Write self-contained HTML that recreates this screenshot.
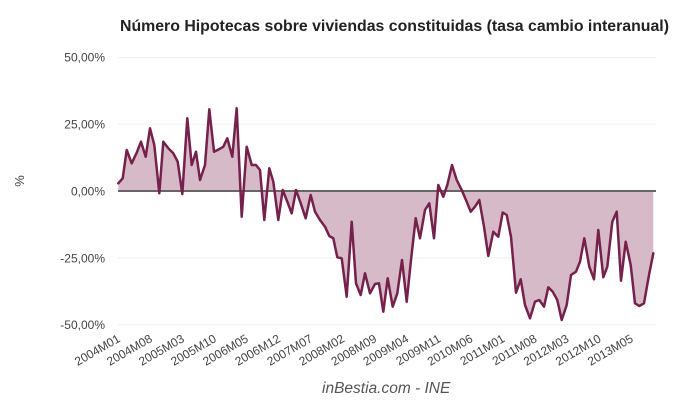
<!DOCTYPE html>
<html>
<head>
<meta charset="utf-8">
<style>
  html, body { margin:0; padding:0; background:#fff; }
  svg { display:block; }
  text { font-family: "Liberation Sans", Arial, sans-serif; }
</style>
</head>
<body>
<svg width="680" height="416" viewBox="0 0 680 416" xmlns="http://www.w3.org/2000/svg">
  <rect x="0" y="0" width="680" height="416" fill="#ffffff"/>

  <!-- Title -->
  <text x="120" y="31" font-size="16" font-weight="bold" fill="#222" textLength="549" lengthAdjust="spacingAndGlyphs">Número Hipotecas sobre viviendas constituidas (tasa cambio interanual)</text>

  <!-- gridlines -->
  <g stroke="#efefef" stroke-width="1">
    <line x1="118" y1="57.5" x2="656" y2="57.5"/>
    <line x1="118" y1="124.3" x2="656" y2="124.3"/>
    <line x1="118" y1="257.9" x2="656" y2="257.9"/>
    <line x1="118" y1="324.7" x2="656" y2="324.7"/>
  </g>

  <!-- y labels -->
  <g font-size="12" fill="#444" text-anchor="end">
    <text x="105" y="61.5">50,00%</text>
    <text x="105" y="128.3">25,00%</text>
    <text x="105" y="195.5">0,00%</text>
    <text x="105" y="262.3">-25,00%</text>
    <text x="105" y="329">-50,00%</text>
  </g>

  <!-- y axis title -->
  <text x="0" y="0" font-size="13" fill="#444" text-anchor="middle" transform="translate(24,181) rotate(-90)">%</text>

  <!-- area -->
  <polygon fill="#d6bac8" stroke="none" points="118.3,191 118.3,183.3 122.7,178.3 126.7,150 131.7,163.3 136.7,152.7 141,141.7 145.7,156.7 150,128.3 154.3,145 159.3,193.3 163.3,141.7 168.3,148.3 173.3,153.3 177.7,161.7 182.3,194 187.3,118.3 191.7,165 196,151.7 200,180 205,165 209.3,109.3 214,151.7 219,149.3 223.3,146.7 227.3,138.3 232.3,156.7 236.7,108.3 241.7,216.7 246.7,146.7 251.7,165 256,165 260,170 264.3,220 269.3,168.3 273.3,181.7 278.3,220 282.7,190 287.3,201.7 291.7,213.3 296,190 300.7,203.3 305.7,218.3 310.7,195 315,211.7 320,220 325,226.7 329.3,236 333.3,238.3 337.3,257.3 341.7,258.3 346.7,296.7 351.7,221.7 356,283.3 360.7,295 365,273.3 370,293.3 375,284 379,283.3 383.3,311.7 387.7,278.3 392.7,306.7 397.3,293.3 402,260 406.7,301.7 411,260 415.7,218.3 420,238.3 425,210 429.3,203.3 434,238.3 438.3,185 443.3,196.7 447.3,185 452,165 456.7,180 461.7,190 466.7,201.7 470.7,211.7 475,206.7 479.3,200 484,226.7 488.3,256 493.3,231.7 498.3,236.7 502.7,212.5 506.7,215 511,236.7 516,292.7 520.7,279.3 525,305 530,318.3 535,301.7 539.3,300 544,306.7 548.3,287.3 552.7,291.7 557.3,300 561.7,320 566.7,305 571,275 576,271.7 580,261.7 584.3,238.3 589.3,266.7 594,279.3 598.3,230 603.3,277.3 607.3,266.7 612.3,221.7 616.7,211.7 621,280.7 625.7,241.7 630.7,265 635,303.3 639.3,306 644,303.3 649,275 653.3,253.3 653.3,191"/>

  <!-- zero line -->
  <line x1="118" y1="191" x2="656" y2="191" stroke="#666" stroke-width="2"/>

  <!-- series line -->
  <polyline fill="none" stroke="#76204c" stroke-width="2.5" stroke-linejoin="round" stroke-linecap="round" points="118.3,183.3 122.7,178.3 126.7,150 131.7,163.3 136.7,152.7 141,141.7 145.7,156.7 150,128.3 154.3,145 159.3,193.3 163.3,141.7 168.3,148.3 173.3,153.3 177.7,161.7 182.3,194 187.3,118.3 191.7,165 196,151.7 200,180 205,165 209.3,109.3 214,151.7 219,149.3 223.3,146.7 227.3,138.3 232.3,156.7 236.7,108.3 241.7,216.7 246.7,146.7 251.7,165 256,165 260,170 264.3,220 269.3,168.3 273.3,181.7 278.3,220 282.7,190 287.3,201.7 291.7,213.3 296,190 300.7,203.3 305.7,218.3 310.7,195 315,211.7 320,220 325,226.7 329.3,236 333.3,238.3 337.3,257.3 341.7,258.3 346.7,296.7 351.7,221.7 356,283.3 360.7,295 365,273.3 370,293.3 375,284 379,283.3 383.3,311.7 387.7,278.3 392.7,306.7 397.3,293.3 402,260 406.7,301.7 411,260 415.7,218.3 420,238.3 425,210 429.3,203.3 434,238.3 438.3,185 443.3,196.7 447.3,185 452,165 456.7,180 461.7,190 466.7,201.7 470.7,211.7 475,206.7 479.3,200 484,226.7 488.3,256 493.3,231.7 498.3,236.7 502.7,212.5 506.7,215 511,236.7 516,292.7 520.7,279.3 525,305 530,318.3 535,301.7 539.3,300 544,306.7 548.3,287.3 552.7,291.7 557.3,300 561.7,320 566.7,305 571,275 576,271.7 580,261.7 584.3,238.3 589.3,266.7 594,279.3 598.3,230 603.3,277.3 607.3,266.7 612.3,221.7 616.7,211.7 621,280.7 625.7,241.7 630.7,265 635,303.3 639.3,306 644,303.3 649,275 653.3,253.3"/>

  <!-- x labels -->
  <g font-size="12" fill="#444" text-anchor="end">
    <text transform="translate(121,341) rotate(-30)">2004M01</text>
    <text transform="translate(153.1,341) rotate(-30)">2004M08</text>
    <text transform="translate(185.1,341) rotate(-30)">2005M03</text>
    <text transform="translate(217.2,341) rotate(-30)">2005M10</text>
    <text transform="translate(249.2,341) rotate(-30)">2006M05</text>
    <text transform="translate(281.3,341) rotate(-30)">2006M12</text>
    <text transform="translate(313.4,341) rotate(-30)">2007M07</text>
    <text transform="translate(345.4,341) rotate(-30)">2008M02</text>
    <text transform="translate(377.5,341) rotate(-30)">2008M09</text>
    <text transform="translate(409.5,341) rotate(-30)">2009M04</text>
    <text transform="translate(441.6,341) rotate(-30)">2009M11</text>
    <text transform="translate(473.7,341) rotate(-30)">2010M06</text>
    <text transform="translate(505.7,341) rotate(-30)">2011M01</text>
    <text transform="translate(537.8,341) rotate(-30)">2011M08</text>
    <text transform="translate(569.8,341) rotate(-30)">2012M03</text>
    <text transform="translate(601.9,341) rotate(-30)">2012M10</text>
    <text transform="translate(634,341) rotate(-30)">2013M05</text>
  </g>

  <!-- footer -->
  <text x="322" y="393" font-size="15.5" font-style="italic" fill="#555">inBestia.com - INE</text>
</svg>
</body>
</html>
